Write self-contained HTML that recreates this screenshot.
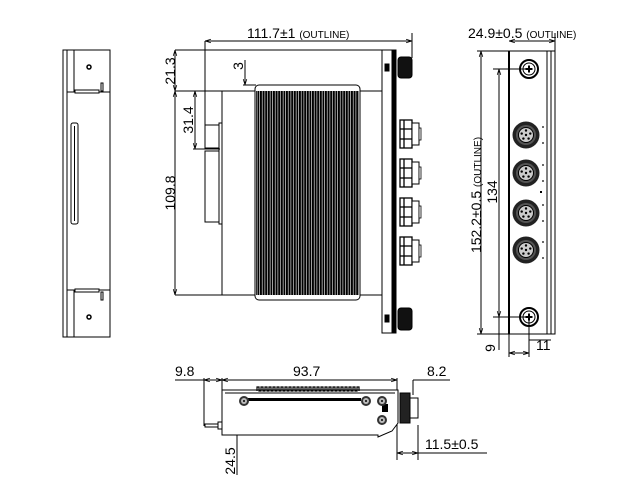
<!DOCTYPE html>
<html><head><meta charset="utf-8"><style>
html,body{margin:0;padding:0;background:#fff}
svg{display:block}
text{font-family:"Liberation Sans","DejaVu Sans",sans-serif;fill:#000}
</style></head><body>
<svg width="637" height="498" viewBox="0 0 637 498" xmlns="http://www.w3.org/2000/svg">
<defs>
<pattern id="fin" width="2.6" height="10" patternUnits="userSpaceOnUse"><rect x="0" y="0" width="2" height="10" fill="#000"/></pattern>
<marker id="a" viewBox="0 0 10 10" refX="10" refY="5" markerWidth="6" markerHeight="6" orient="auto-start-reverse"><path d="M0,2 L10,5 L0,8" fill="none" stroke="#000" stroke-width="1.2"/></marker>
<g id="conn">
<rect x="400" y="0" width="12" height="28" fill="#fff" stroke="#000" stroke-width="1.3"/>
<line x1="404" y1="0" x2="404" y2="28" stroke="#000" stroke-width="1.3"/>
<line x1="400" y1="9" x2="412" y2="9" stroke="#000" stroke-width="1.3"/>
<line x1="400" y1="19" x2="412" y2="19" stroke="#000" stroke-width="1.3"/>
<rect x="412" y="3" width="7" height="22" fill="#fff" stroke="#000" stroke-width="1"/>
<rect x="419" y="8" width="2" height="12" fill="#fff" stroke="#000" stroke-width="0.8"/>
</g>
<g id="rc">
<circle cx="0" cy="0" r="13.5" fill="#222"/>
<circle cx="0" cy="0" r="10" fill="#555"/>
<circle cx="0" cy="0" r="7.5" fill="#ccc" stroke="#000"/>
<circle cx="0" cy="0" r="1.2" fill="#000"/>
<circle cx="0" cy="-4.5" r="1.2" fill="#000"/><circle cx="4.3" cy="-1.4" r="1.2" fill="#000"/><circle cx="2.6" cy="3.6" r="1.2" fill="#000"/><circle cx="-2.6" cy="3.6" r="1.2" fill="#000"/><circle cx="-4.3" cy="-1.4" r="1.2" fill="#000"/>
<circle cx="17" cy="-8" r="0.9" fill="#000"/><circle cx="17" cy="8" r="0.9" fill="#000"/>
</g>
<g id="bs"><circle r="5" fill="#333"/><circle r="3" fill="#bbb"/><circle r="1" fill="#000"/></g>
<g id="scr" stroke="#000" fill="none"><circle r="9" stroke-width="2"/><circle r="6" stroke-width="1"/><line x1="-3.5" y1="0" x2="3.5" y2="0" stroke-width="2"/><line x1="0" y1="-3.5" x2="0" y2="3.5" stroke-width="2"/></g>
</defs>
<g stroke="#000" stroke-width="1" fill="none">
<!-- LEFT SIDE VIEW -->
<rect x="63" y="50" width="47" height="287"/>
<line x1="67" y1="50" x2="67" y2="337"/>
<line x1="74" y1="50" x2="74" y2="92"/><line x1="74" y1="290" x2="74" y2="337"/>
<line x1="67" y1="92" x2="110" y2="92"/><line x1="67" y1="290" x2="110" y2="290"/>
<rect x="75" y="90" width="24" height="3" fill="#fff"/>
<rect x="75" y="289" width="24" height="3" fill="#fff"/>
<rect x="101" y="83" width="2" height="8"/><rect x="101" y="292" width="2" height="8"/>
<circle cx="89" cy="67" r="2" stroke-width="1.5"/><circle cx="89" cy="317" r="2" stroke-width="1.5"/>
<rect x="71" y="123" width="7" height="101" rx="2"/>
<line x1="74.5" y1="126" x2="74.5" y2="221"/>

<!-- FRONT VIEW -->
<line x1="205" y1="41" x2="412" y2="41" marker-start="url(#a)" marker-end="url(#a)"/>
<line x1="205" y1="41" x2="205" y2="125"/>
<line x1="412" y1="33" x2="412" y2="58"/>
<line x1="175" y1="50" x2="382" y2="50"/>
<line x1="175" y1="91" x2="222" y2="91"/>
<line x1="175" y1="295" x2="222" y2="295"/>
<line x1="175" y1="50" x2="175" y2="91" marker-start="url(#a)" marker-end="url(#a)"/>
<line x1="175" y1="91" x2="175" y2="295" marker-start="url(#a)" marker-end="url(#a)"/>
<line x1="195" y1="91" x2="195" y2="149" marker-start="url(#a)" marker-end="url(#a)"/>
<line x1="193" y1="149" x2="220" y2="149"/>
<line x1="245" y1="60" x2="245" y2="85" marker-end="url(#a)"/>
<line x1="245" y1="111" x2="245" y2="91" marker-end="url(#a)"/>
<line x1="243" y1="85" x2="256" y2="85"/>
<rect x="205" y="125" width="14" height="23"/>
<rect x="205" y="151" width="14" height="71"/>
<rect x="219" y="123" width="3" height="101"/>
<rect x="222" y="91" width="170" height="204" fill="#fff"/>
<rect x="255" y="85" width="105" height="215" rx="4" fill="#fff"/>
<rect x="256" y="91" width="103" height="204" fill="url(#fin)" stroke="none"/>
<rect x="382" y="50" width="10" height="283" fill="#fff"/>
<rect x="393" y="50" width="3" height="283" fill="#000"/>
<rect x="385" y="64" width="4" height="7" fill="#000"/>
<rect x="385" y="315" width="4" height="7" fill="#000"/>
<rect x="398" y="57" width="14" height="21" rx="3" fill="#111"/>
<rect x="398" y="308" width="14" height="22" rx="3" fill="#111"/>
<use href="#conn" y="120"/><use href="#conn" y="159"/><use href="#conn" y="198"/><use href="#conn" y="237"/>

<!-- RIGHT VIEW -->
<line x1="509" y1="41" x2="555" y2="41" marker-start="url(#a)" marker-end="url(#a)"/>
<line x1="555" y1="33" x2="555" y2="51"/>
<rect x="509" y="51" width="46" height="283"/>
<line x1="509" y1="51" x2="509" y2="334" stroke-width="2"/>
<line x1="547" y1="51" x2="547" y2="334"/>
<line x1="551" y1="51" x2="551" y2="334"/>
<line x1="477" y1="51" x2="509" y2="51"/>
<line x1="477" y1="334" x2="509" y2="334"/>
<line x1="481" y1="51" x2="481" y2="334" marker-start="url(#a)" marker-end="url(#a)"/>
<line x1="493" y1="69" x2="529" y2="69"/>
<line x1="493" y1="317" x2="529" y2="317"/>
<line x1="499" y1="69" x2="499" y2="317" marker-start="url(#a)" marker-end="url(#a)"/>
<line x1="499" y1="317" x2="499" y2="350"/>
<line x1="509" y1="334" x2="509" y2="357"/>
<line x1="529" y1="317" x2="529" y2="357"/>
<line x1="509" y1="353" x2="529" y2="353" marker-start="url(#a)" marker-end="url(#a)"/>
<line x1="529" y1="340" x2="551" y2="340"/>
</g>
<use href="#scr" x="529" y="69"/><use href="#scr" x="529" y="317"/>
<g stroke="none">
<use href="#rc" x="526" y="135"/><use href="#rc" x="526" y="173"/><use href="#rc" x="526" y="213"/><use href="#rc" x="526" y="250"/>
<rect x="540" y="191" width="2" height="2" fill="#000"/>
</g>
<g stroke="#000" stroke-width="1" fill="none">
<!-- BOTTOM VIEW -->
<line x1="175" y1="380" x2="204" y2="380"/>
<line x1="204" y1="380" x2="222" y2="380" marker-start="url(#a)" marker-end="url(#a)"/>
<line x1="222" y1="380" x2="397" y2="380" marker-start="url(#a)" marker-end="url(#a)"/>
<line x1="413" y1="380" x2="450" y2="380"/>
<line x1="413" y1="380" x2="413" y2="395"/>
<line x1="204" y1="378" x2="204" y2="426"/>
<line x1="222" y1="378" x2="222" y2="390"/>
<line x1="397" y1="378" x2="397" y2="460"/>
<line x1="418" y1="425" x2="418" y2="460"/>
<line x1="397" y1="453" x2="418" y2="453" marker-start="url(#a)" marker-end="url(#a)"/>
<line x1="418" y1="453" x2="487" y2="453"/>
<line x1="237" y1="390" x2="237" y2="475" marker-start="url(#a)"/>
<path d="M222,390 L398,390 L398,423 L392,431 L378,437 L378,435 L222,435 Z" fill="#fff"/>
<line x1="225" y1="393" x2="395" y2="393"/>
<path d="M257,391 v-4 h2 v4 h2 v-4 h2 v4 h2 v-4 h2 v4 h2 v-4 h2 v4 h2 v-4 h2 v4 h2 v-4 h2 v4 h2 v-4 h2 v4 h2 v-4 h2 v4 h2 v-4 h2 v4 h2 v-4 h2 v4 h2 v-4 h2 v4 h2 v-4 h2 v4 h2 v-4 h2 v4 h2 v-4 h2 v4 h2 v-4 h2 v4 h2 v-4 h2 v4 h2 v-4 h2 v4 h2 v-4 h2 v4 h2 v-4 h2 v4 h2 v-4 h2 v4 h2 v-4 h2 v4 h2 v-4 h2 v4 h2 v-4 h2 v4 h2 v-4 h2 v4 h2 v-4 h2 v4 h2 v-4 h2 v4" stroke-width="1.2"/>
<rect x="248" y="398" width="113" height="3" fill="#000" stroke="none"/>
<rect x="382" y="404" width="6" height="8" fill="#000" stroke="none"/>
<rect x="205" y="424" width="13" height="3"/>
<rect x="218" y="422" width="4" height="7"/>
<rect x="400" y="393" width="10" height="30" fill="#222"/>
<rect x="410" y="398" width="8" height="20" fill="#fff"/>
</g>
<g stroke="none"><use href="#bs" x="244" y="401"/><use href="#bs" x="366" y="401"/><use href="#bs" x="382" y="401"/><use href="#bs" x="382" y="420"/></g>

<!-- TEXT -->
<text x="247" y="38" font-size="14">111.7±1 <tspan font-size="10">(OUTLINE)</tspan></text>
<text x="468" y="38" font-size="14">24.9±0.5 <tspan font-size="10">(OUTLINE)</tspan></text>
<text font-size="14" transform="translate(175,71) rotate(-90)" text-anchor="middle">21.3</text>
<text font-size="14" transform="translate(175,193) rotate(-90)" text-anchor="middle">109.8</text>
<text font-size="14" transform="translate(193,120) rotate(-90)" text-anchor="middle">31.4</text>
<text font-size="14" transform="translate(243,66) rotate(-90)" text-anchor="middle">3</text>
<text font-size="14" transform="translate(481,195) rotate(-90)" text-anchor="middle">152.2±0.5 <tspan font-size="10">(OUTLINE)</tspan></text>
<text font-size="14" transform="translate(497,192) rotate(-90)" text-anchor="middle">134</text>
<text font-size="14" transform="translate(495,348) rotate(-90)" text-anchor="middle">9</text>
<text x="536" y="350" font-size="14">11</text>
<text x="175" y="376" font-size="14">9.8</text>
<text x="293" y="376" font-size="14">93.7</text>
<text x="427" y="376" font-size="14">8.2</text>
<text x="425" y="449" font-size="14">11.5±0.5</text>
<text font-size="14" transform="translate(235,461) rotate(-90)" text-anchor="middle">24.5</text>
</svg>
</body></html>
